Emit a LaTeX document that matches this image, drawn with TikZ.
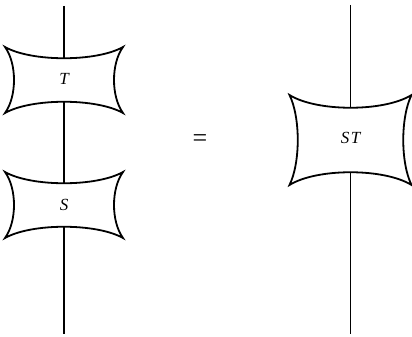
\documentclass[tikz,border=0pt]{standalone}
\usepackage{fontspec}
\setmainfont{Liberation Serif}
\tikzset{
  wire/.style={line width=1.8pt},
  lbl/.style={font=\fontsize{17}{17}\selectfont\itshape, inner sep=0pt},
  pillow/.pic={
    \draw[line width=1.8pt, fill=white, line join=miter]
      (-\pw,\ph) .. controls (-0.55*\pw,\ph-\pd) and (0.55*\pw,\ph-\pd) .. (\pw,\ph)
      .. controls (\pw-\ps,0.5*\ph) and (\pw-\ps,-0.5*\ph) .. (\pw,-\ph)
      .. controls (0.55*\pw,-\ph+\pd) and (-0.55*\pw,-\ph+\pd) .. (-\pw,-\ph)
      .. controls (-\pw+\ps,-0.5*\ph) and (-\pw+\ps,0.5*\ph) .. cycle;
  }
}
\begin{document}
\begin{tikzpicture}[x=1pt,y=-1pt]
\useasboundingbox (0,0) rectangle (412,337);
% wires
\coordinate (ltop) at (64,6);
\coordinate (lbot) at (64,334);
\coordinate (rtop) at (350.5,5);
\coordinate (rbot) at (350.5,334);
\draw[wire] (ltop) -- (lbot);
\draw[wire] (rtop) -- (rbot);
% boxes
\def\pw{59}\def\ph{33}\def\pd{15}\def\ps{12}
\pic at (64,80) {pillow};
\pic at (64,205) {pillow};
\def\pw{61}\def\ph{45}\def\pd{17}\def\ps{11}
\pic at (350.5,140) {pillow};
% labels
\node[lbl] (T) at (64,79) {T};
\node[lbl] (S) at (64,205) {S};
\node[lbl] (ST) at (350.5,138) {S\kern1.5pt T};
\node[font=\fontsize{26}{26}\selectfont, inner sep=0pt] (eq) at (200,141) {=};
\end{tikzpicture}
\end{document}
